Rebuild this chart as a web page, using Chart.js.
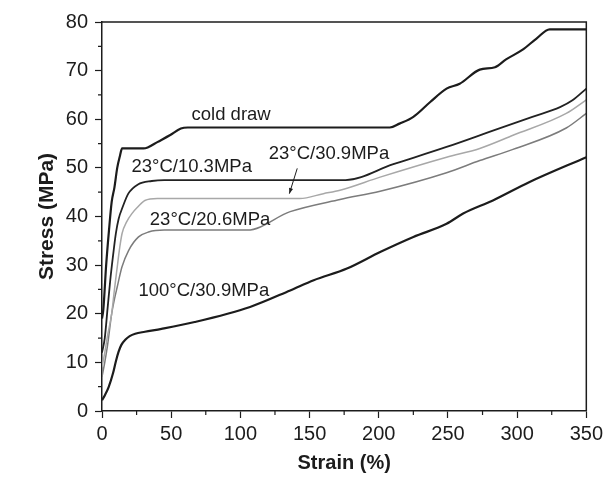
<!DOCTYPE html>
<html>
<head>
<meta charset="utf-8">
<script src="https://cdn.jsdelivr.net/npm/chart.js@4"></script>
<style>
  html, body { margin: 0; padding: 0; background: #fff; }
  #wrap { width: 607px; height: 477px; }
</style>
</head>
<body>
<div id="wrap"><canvas id="stressChart" width="607" height="477"></canvas></div>
<script>
// Strain (%) / stress (MPa)
const coldDrawStrain = [0, 1, 3, 5, 7, 9, 11, 13, 14.5, 30, 33, 40, 49, 57, 62, 208, 215, 225, 237, 249, 258.5, 273, 284, 292, 304, 314, 323.5, 350];
const coldDrawStress = [19, 21, 30, 37, 43, 46, 50, 52.5, 54, 54, 54.2, 55.3, 56.7, 58.1, 58.3, 58.3, 59.1, 60.5, 63.5, 66.3, 67.3, 70.2, 70.7, 72.3, 74.3, 76.6, 78.5, 78.5];

const rt103Strain = [0, 2, 4, 6, 8, 10, 12, 15, 19, 26, 36, 45, 176, 210, 249, 282, 311, 331, 340, 350];
const rt103Stress = [12, 15, 21, 27, 32, 36.5, 39.5, 42, 44.7, 46.6, 47.3, 47.5, 47.5, 50.7, 54.3, 57.6, 60.5, 62.5, 63.9, 66.3];

const rt309Strain = [0, 2, 4, 7, 9, 11, 12.5, 14.5, 18, 21.6, 26, 31, 40, 143, 160, 172, 201, 249, 273, 297, 335.5, 350];
const rt309Stress = [9, 12, 15.5, 20, 25, 29.6, 33, 36.5, 39, 40.6, 42, 43.3, 43.7, 43.7, 44.7, 45.4, 48.1, 52.2, 54, 56.7, 61.2, 64];

const rt206Strain = [0, 2, 4, 7, 9, 11, 14.4, 19.2, 26.4, 33.6, 45, 105, 136, 172, 201, 249, 273, 297, 335.5, 350];
const rt206Stress = [7, 10, 13.5, 20, 23, 25.5, 29.6, 33, 35.8, 36.8, 37.2, 37.2, 41, 43.5, 45.2, 49, 51.5, 53.8, 58.2, 61.2];

const hot309Strain = [0, 2, 4.8, 8, 10, 12, 14, 17, 20, 24, 31, 43, 67, 107, 136, 153, 177, 201, 225, 249, 261, 282.5, 309, 350];
const hot309Stress = [2.2, 3.2, 4.9, 7.8, 10.2, 12.2, 13.6, 14.7, 15.4, 15.9, 16.3, 16.9, 18.3, 21.4, 24.8, 26.9, 29.3, 32.7, 35.8, 38.5, 40.6, 43.3, 47.1, 52.2];

const xTicks = [0, 50, 100, 150, 200, 250, 300, 350];
const yTicks = [0, 10, 20, 30, 40, 50, 60, 70, 80];

// curve labels, placed in data units
const curveLabels = [
  { text: 'cold draw', x: 93.3, y: 60.8 },
  { text: '23°C/10.3MPa', x: 64.8, y: 50.3 },
  { text: '23°C/30.9MPa', x: 164, y: 52.9 },
  { text: '23°C/20.6MPa', x: 78.1, y: 39.3 },
  { text: '100°C/30.9MPa', x: 73.6, y: 24.7 }
];
const arrowFrom = { x: 141.1, y: 49.9 };
const arrowTo = { x: 135.4, y: 44.7 };

function pts(xs, ys) {
  return xs.map((x, i) => ({ x: x, y: ys[i] }));
}

const ink = '#1c1c1c';
const FONT = '"Liberation Sans", Arial, Helvetica, sans-serif';

// minor ticks, frame, curve labels, arrow
const decorations = {
  id: 'decorations',
  afterDraw(chart) {
    const ctx = chart.ctx;
    const a = chart.chartArea;
    const xs = chart.scales.x, ys = chart.scales.y;
    ctx.save();
    ctx.strokeStyle = ink;
    ctx.lineWidth = 1.2;
    ctx.beginPath();
    for (let v = 25; v < 350; v += 50) {
      const px = xs.getPixelForValue(v);
      ctx.moveTo(px, a.bottom);
      ctx.lineTo(px, a.bottom + 4);
    }
    for (let v = 5; v < 80; v += 10) {
      const py = ys.getPixelForValue(v);
      ctx.moveTo(a.left, py);
      ctx.lineTo(a.left - 4, py);
    }
    ctx.stroke();

    ctx.lineWidth = 1.5;
    ctx.beginPath();
    ctx.moveTo(a.left, a.top);
    ctx.lineTo(a.right, a.top);
    ctx.lineTo(a.right, a.bottom);
    ctx.stroke();

    ctx.fillStyle = ink;
    ctx.font = '18.5px ' + FONT;
    ctx.textAlign = 'center';
    ctx.textBaseline = 'middle';
    curveLabels.forEach(l => {
      ctx.fillText(l.text, xs.getPixelForValue(l.x), ys.getPixelForValue(l.y));
    });

    const x1 = xs.getPixelForValue(arrowFrom.x), y1 = ys.getPixelForValue(arrowFrom.y);
    const x2 = xs.getPixelForValue(arrowTo.x), y2 = ys.getPixelForValue(arrowTo.y);
    ctx.lineWidth = 1;
    ctx.beginPath();
    ctx.moveTo(x1, y1);
    ctx.lineTo(x2, y2);
    ctx.stroke();
    const ang = Math.atan2(y2 - y1, x2 - x1);
    ctx.beginPath();
    ctx.moveTo(x2, y2);
    ctx.lineTo(x2 - 6 * Math.cos(ang - 0.35), y2 - 6 * Math.sin(ang - 0.35));
    ctx.lineTo(x2 - 6 * Math.cos(ang + 0.35), y2 - 6 * Math.sin(ang + 0.35));
    ctx.closePath();
    ctx.fill();
    ctx.restore();
  }
};

const series = [
  { label: 'cold draw', data: pts(coldDrawStrain, coldDrawStress), color: ink, width: 2.2 },
  { label: '23°C/10.3MPa', data: pts(rt103Strain, rt103Stress), color: '#222', width: 1.8 },
  { label: '23°C/30.9MPa', data: pts(rt309Strain, rt309Stress), color: '#a8a8a8', width: 1.5 },
  { label: '23°C/20.6MPa', data: pts(rt206Strain, rt206Stress), color: '#7c7c7c', width: 1.5 },
  { label: '100°C/30.9MPa', data: pts(hot309Strain, hot309Stress), color: ink, width: 2.2 }
];

const ctx = document.getElementById('stressChart').getContext('2d');
new Chart(ctx, {
  type: 'line',
  data: {
    datasets: series.map(s => ({
      label: s.label,
      data: s.data,
      borderColor: s.color,
      borderWidth: s.width,
      pointRadius: 0,
      fill: false,
      cubicInterpolationMode: 'monotone'
    }))
  },
  options: {
    responsive: false,
    animation: false,
    devicePixelRatio: 1,
    layout: { padding: { top: 22, right: 20, bottom: 0, left: 0 } },
    plugins: {
      legend: { display: false },
      tooltip: { enabled: false }
    },
    scales: {
      x: {
        type: 'linear',
        min: 0,
        max: 350,
        afterBuildTicks: scale => { scale.ticks = xTicks.map(v => ({ value: v })); },
        afterFit: scale => { scale.height = 66; },
        ticks: { color: ink, font: { family: FONT, size: 20 }, padding: 4, maxRotation: 0 },
        grid: { drawOnChartArea: false, tickLength: 7, tickColor: ink, tickWidth: 1.2 },
        border: { color: ink, width: 1.5 },
        title: {
          display: true,
          text: 'Strain (%)',
          color: ink,
          font: { family: FONT, size: 20, weight: 'bold' },
          padding: { top: 0, bottom: 2 }
        }
      },
      y: {
        min: 0,
        max: 80,
        afterBuildTicks: scale => { scale.ticks = yTicks.map(v => ({ value: v })); },
        afterFit: scale => { scale.width = 102; },
        ticks: { color: ink, font: { family: FONT, size: 20 }, padding: 7 },
        grid: { drawOnChartArea: false, tickLength: 7, tickColor: ink, tickWidth: 1.2 },
        border: { color: ink, width: 1.5 },
        title: {
          display: true,
          text: 'Stress (MPa)',
          color: ink,
          font: { family: FONT, size: 21, weight: 'bold' },
          padding: { top: 35, bottom: 0 }
        }
      }
    }
  },
  plugins: [decorations]
});
</script>
</body>
</html>
